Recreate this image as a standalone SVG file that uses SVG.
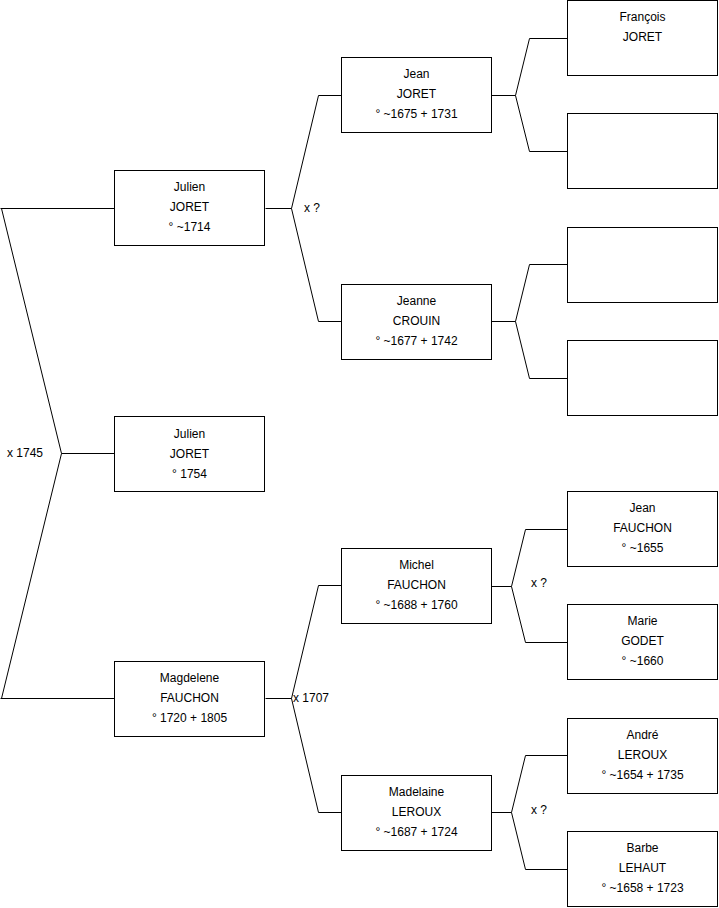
<svg xmlns="http://www.w3.org/2000/svg" width="719" height="908" viewBox="0 0 719 908">
<style>
.b{fill:#fff;stroke:#000;stroke-width:1}
.t{font-family:"Liberation Sans",Arial,sans-serif;font-size:12px;fill:#000;text-anchor:middle}
.l{font-family:"Liberation Sans",Arial,sans-serif;font-size:12px;fill:#000}
.c{fill:none;stroke:#000;stroke-width:1}
</style>
<rect width="719" height="908" fill="#fff"/>
<g id="connectors">
<path class="c" d="M0.5 208.5H114.5M1.5 208.5L61.5 453.5L1.5 698.5M0.5 698.5H114.5M61.5 453.5H114.5"/>
<path class="c" d="M265.5 208.5H291.5L318.5 95.5H341.5M291.5 208.5L318.5 321.5H341.5"/>
<path class="c" d="M265.5 698.5H291.5L318.5 585.5H341.5M291.5 698.5L318.5 812.5H341.5"/>
<path class="c" d="M491.5 95.5H515.5L529.5 38.5H567.5M515.5 95.5L529.5 151.5H567.5"/>
<path class="c" d="M491.5 321.5H515.5L529.5 264.5H567.5M515.5 321.5L529.5 378.5H567.5"/>
<path class="c" d="M491.5 586.5H511.5L525.5 529.5H567.5M511.5 586.5L525.5 642.5H567.5"/>
<path class="c" d="M491.5 812.5H511.5L525.5 755.5H567.5M511.5 812.5L525.5 869.5H567.5"/>
<text class="l" x="7" y="457">x 1745</text>
<text class="l" x="304" y="212">x ?</text>
<text class="l" x="293" y="702">x 1707</text>
<text class="l" x="531" y="587">x ?</text>
<text class="l" x="531" y="814">x ?</text>
</g>
<g id="n1"><rect class="b" x="114.5" y="170.5" width="150" height="75"/><text class="t" x="189.5" y="191">Julien</text><text class="t" x="189.5" y="211">JORET</text><text class="t" x="189.5" y="231">° ~1714</text></g>
<g id="n2"><rect class="b" x="114.5" y="416.5" width="150" height="75"/><text class="t" x="189.5" y="438">Julien</text><text class="t" x="189.5" y="458">JORET</text><text class="t" x="189.5" y="478">° 1754</text></g>
<g id="n3"><rect class="b" x="114.5" y="661.5" width="150" height="75"/><text class="t" x="189.5" y="682">Magdelene</text><text class="t" x="189.5" y="702">FAUCHON</text><text class="t" x="189.5" y="722">° 1720 + 1805</text></g>
<g id="n4"><rect class="b" x="341.5" y="57.5" width="150" height="75"/><text class="t" x="416.5" y="78">Jean</text><text class="t" x="416.5" y="98">JORET</text><text class="t" x="416.5" y="118">° ~1675 + 1731</text></g>
<g id="n5"><rect class="b" x="341.5" y="284.5" width="150" height="75"/><text class="t" x="416.5" y="305">Jeanne</text><text class="t" x="416.5" y="325">CROUIN</text><text class="t" x="416.5" y="345">° ~1677 + 1742</text></g>
<g id="n6"><rect class="b" x="341.5" y="548.5" width="150" height="75"/><text class="t" x="416.5" y="569">Michel</text><text class="t" x="416.5" y="589">FAUCHON</text><text class="t" x="416.5" y="609">° ~1688 + 1760</text></g>
<g id="n7"><rect class="b" x="341.5" y="775.5" width="150" height="75"/><text class="t" x="416.5" y="796">Madelaine</text><text class="t" x="416.5" y="816">LEROUX</text><text class="t" x="416.5" y="836">° ~1687 + 1724</text></g>
<g id="n8"><rect class="b" x="567.5" y="0.5" width="150" height="75"/><text class="t" x="642.5" y="21">François</text><text class="t" x="642.5" y="41">JORET</text></g>
<g id="n9"><rect class="b" x="567.5" y="113.5" width="150" height="75"/></g>
<g id="n10"><rect class="b" x="567.5" y="227.5" width="150" height="75"/></g>
<g id="n11"><rect class="b" x="567.5" y="340.5" width="150" height="75"/></g>
<g id="n12"><rect class="b" x="567.5" y="491.5" width="150" height="75"/><text class="t" x="642.5" y="512">Jean</text><text class="t" x="642.5" y="532">FAUCHON</text><text class="t" x="642.5" y="552">° ~1655</text></g>
<g id="n13"><rect class="b" x="567.5" y="604.5" width="150" height="75"/><text class="t" x="642.5" y="625">Marie</text><text class="t" x="642.5" y="645">GODET</text><text class="t" x="642.5" y="665">° ~1660</text></g>
<g id="n14"><rect class="b" x="567.5" y="718.5" width="150" height="75"/><text class="t" x="642.5" y="739">André</text><text class="t" x="642.5" y="759">LEROUX</text><text class="t" x="642.5" y="779">° ~1654 + 1735</text></g>
<g id="n15"><rect class="b" x="567.5" y="831.5" width="150" height="75"/><text class="t" x="642.5" y="852">Barbe</text><text class="t" x="642.5" y="872">LEHAUT</text><text class="t" x="642.5" y="892">° ~1658 + 1723</text></g>
</svg>
